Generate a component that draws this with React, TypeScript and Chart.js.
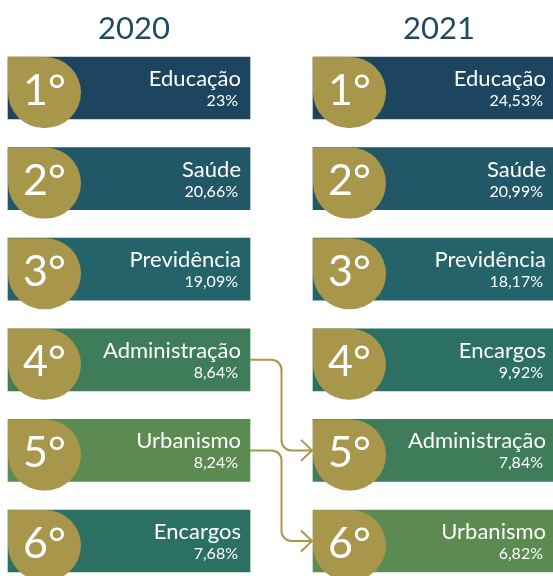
import React, { useEffect, useRef } from "react";
import { Chart, registerables } from "chart.js";

Chart.register(...registerables);

const years = ["2020", "2021"];
const ranks = ["1°", "2°", "3°", "4°", "5°", "6°"];
const categories2020 = ["Educação", "Saúde", "Previdência", "Administração", "Urbanismo", "Encargos"];
const values2020 = [23, 20.66, 19.09, 8.64, 8.24, 7.68];
const categories2021 = ["Educação", "Saúde", "Previdência", "Encargos", "Administração", "Urbanismo"];
const values2021 = [24.53, 20.99, 18.17, 9.92, 7.84, 6.82];

const categoryColors: Record<string, string> = {
  "Educação": "#1e455f",
  "Saúde": "#225767",
  "Previdência": "#24636a",
  "Administração": "#3e7c5a",
  "Urbanismo": "#5b8b51",
  "Encargos": "#2c6f63",
};
const GOLD = "#a8974a";
const TITLE_COLOR = "#1f4a64";
const FONT = "Lato, 'Open Sans', sans-serif";

// layout (pixel-like units on the x scale)
const LEFT_SPAN: [number, number] = [8, 250];
const RIGHT_SPAN: [number, number] = [313, 555];

const fmt = (v: number) => String(v).replace(".", ",") + "%";

const rankingPlugin = {
  id: "rankingPlugin",
  afterDatasetsDraw(chart: any) {
    const ctx: CanvasRenderingContext2D = chart.ctx;
    const metas = [chart.getDatasetMeta(0), chart.getDatasetMeta(1)];
    const cats = [categories2020, categories2021];
    const vals = [values2020, values2021];
    ctx.save();
    metas.forEach((meta: any, di: number) => {
      meta.data.forEach((bar: any, i: number) => {
        const left = Math.min(bar.base, bar.x);
        const right = Math.max(bar.base, bar.x);
        const top = bar.y - bar.height / 2;
        // gold drop
        ctx.fillStyle = GOLD;
        ctx.beginPath();
        (ctx as any).roundRect(left, top, 73, 71, [0, 35.5, 35.5, 35.5]);
        ctx.fill();
        // rank
        ctx.fillStyle = "#ffffff";
        ctx.textAlign = "center";
        ctx.textBaseline = "alphabetic";
        ctx.font = `43px ${FONT}`;
        ctx.fillText(ranks[i], left + 36.5, bar.y + 16.5);
        // name and value
        ctx.textAlign = "right";
        ctx.font = `22px ${FONT}`;
        ctx.fillText(cats[di][i], right - 9, top + 29);
        ctx.font = `16px ${FONT}`;
        ctx.fillText(fmt(vals[di][i]), right - 12, top + 49);
      });
      // year title
      const b0 = meta.data[0];
      ctx.fillStyle = TITLE_COLOR;
      ctx.textAlign = "center";
      ctx.font = `31px ${FONT}`;
      ctx.fillText(years[di], (b0.base + b0.x) / 2 + 5, 39);
    });

    // arrows for categories that dropped in ranking
    const leftBars = metas[0].data;
    const rightBars = metas[1].data;
    ctx.strokeStyle = GOLD;
    ctx.lineWidth = 2;
    categories2020.forEach((cat, i) => {
      const j = categories2021.indexOf(cat);
      if (j <= i) return;
      const a = leftBars[i];
      const b = rightBars[j];
      const x0 = Math.max(a.base, a.x);
      const x2 = Math.min(b.base, b.x);
      const xm = (x0 + x2) / 2;
      const tip = x2 - 1;
      const y0 = a.y;
      const y1 = b.y;
      const r = 10;
      ctx.beginPath();
      ctx.moveTo(x0, y0);
      ctx.arcTo(xm, y0, xm, y0 + r, r);
      ctx.arcTo(xm, y1, xm + r, y1, r);
      ctx.lineTo(tip, y1);
      ctx.stroke();
      ctx.beginPath();
      ctx.moveTo(tip - 11, y1 - 10.5);
      ctx.lineTo(tip, y1);
      ctx.lineTo(tip - 11, y1 + 10.5);
      ctx.stroke();
    });
    ctx.restore();
  },
};

export default function App() {
  const canvasRef = useRef<HTMLCanvasElement | null>(null);

  useEffect(() => {
    if (!canvasRef.current) return;
    const chart = new Chart(canvasRef.current, {
      type: "bar",
      data: {
        labels: ranks,
        datasets: [
          {
            label: years[0],
            data: ranks.map(() => LEFT_SPAN) as any,
            backgroundColor: categories2020.map((c) => categoryColors[c]),
            grouped: false,
            barThickness: 62,
            clip: false as any,
          } as any,
          {
            label: years[1],
            data: ranks.map(() => RIGHT_SPAN) as any,
            backgroundColor: categories2021.map((c) => categoryColors[c]),
            grouped: false,
            barThickness: 62,
            clip: false as any,
          } as any,
        ],
      },
      options: {
        indexAxis: "y",
        animation: false,
        responsive: true,
        maintainAspectRatio: false,
        layout: { padding: { top: 88, bottom: 35, left: 0, right: 0 } },
        scales: {
          x: { type: "linear", min: 0, max: 553, display: false },
          y: { type: "category", offset: false, display: false, grid: { display: false } },
        },
        plugins: { legend: { display: false }, tooltip: { enabled: false } },
      },
      plugins: [rankingPlugin],
    });
    return () => chart.destroy();
  }, []);

  return (
    <div style={{ position: "absolute", left: 0, top: 0, width: 553, height: 576, background: "#ffffff" }}>
      <canvas ref={canvasRef} />
    </div>
  );
}
